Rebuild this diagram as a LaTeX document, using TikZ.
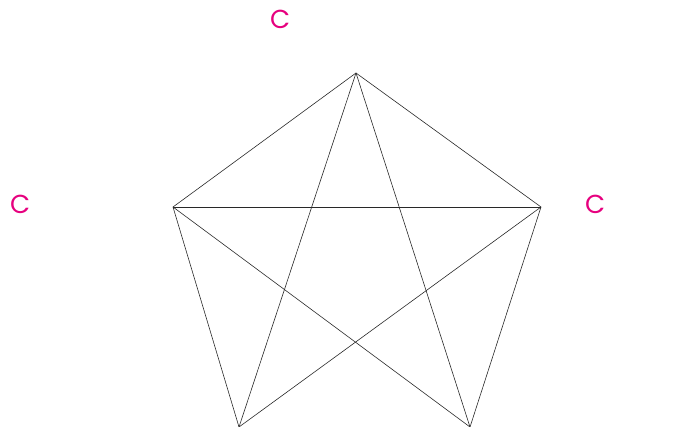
\documentclass[tikz,border=0pt]{standalone}
\usepackage{fontspec}
\setmainfont{Poppins}
\definecolor{mag}{RGB}{230,0,126}
\definecolor{edge}{RGB}{40,40,40}
\begin{document}
\begin{tikzpicture}[x=1pt,y=-1pt,
  lbl/.style={text=mag,font=\fontsize{26}{26}\selectfont,inner sep=0pt,anchor=base west},
  edg/.style={draw=edge,line width=0.6pt}]
\useasboundingbox (0,0) rectangle (687,427);
\coordinate (t) at (356,73);
\coordinate (l) at (173,207);
\coordinate (r) at (541,207);
\coordinate (bl) at (239,427);
\coordinate (br) at (470,427);
\draw[edg] (bl) -- (l) -- (t) -- (r) -- (br);
\draw[edg] (t) -- (bl);
\draw[edg] (t) -- (br);
\draw[edg] (l) -- (r);
\draw[edg] (l) -- (br);
\draw[edg] (r) -- (bl);
\node[lbl] (lt) at (270,29) {C};
\node[lbl] (ll) at (10,214) {C};
\node[lbl] (lr) at (585,214) {C};
\end{tikzpicture}
\end{document}
